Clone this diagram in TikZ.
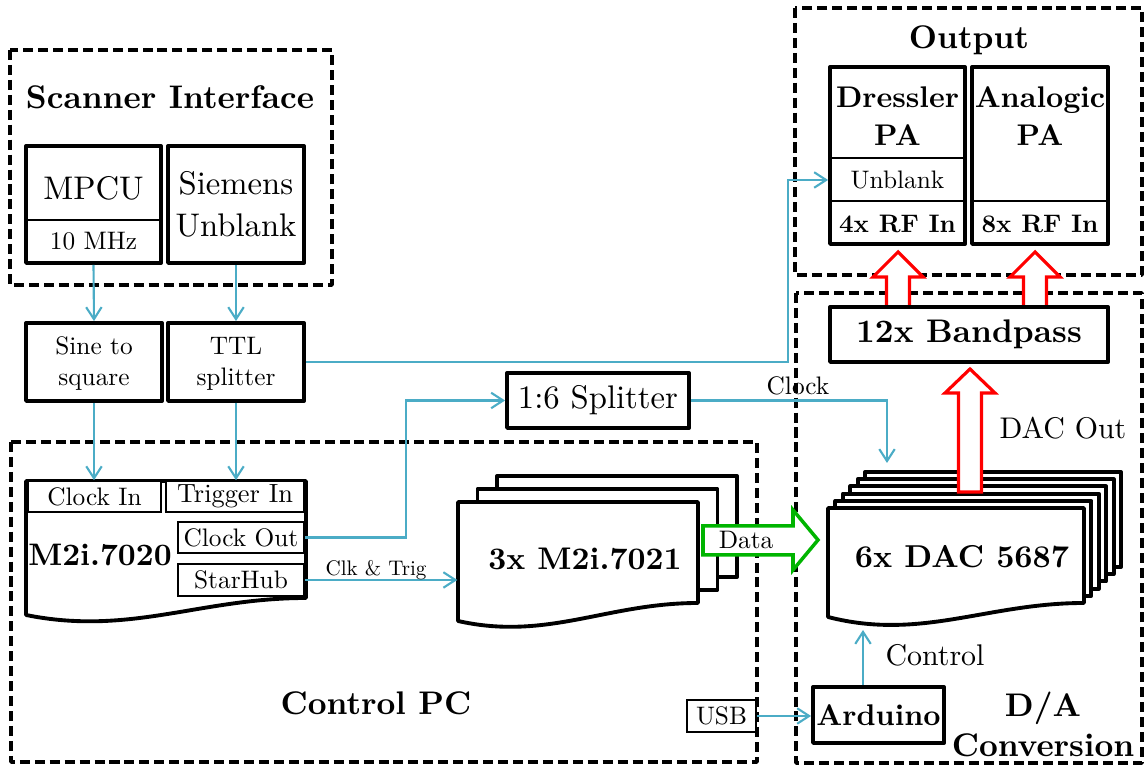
\documentclass[tikz,border=0pt]{standalone}
\usepackage{fontspec}
\setmainfont{lmroman10-regular.otf}[BoldFont=lmroman10-bold.otf]
\usetikzlibrary{arrows.meta,fit,calc}

\definecolor{sigblue}{RGB}{75,172,198}
\definecolor{dagreen}{RGB}{0,180,0}
\definecolor{dared}{RGB}{255,0,0}

% text sizes
\newcommand\szA{\fontsize{9.3}{12}\selectfont}
\newcommand\szB{\fontsize{8.5}{10.8}\selectfont}
\newcommand\szC{\fontsize{7.2}{8.8}\selectfont}
\newcommand\szD{\fontsize{6}{7}\selectfont}

% hollow upward block arrow: centre x, tip y, head base y, bottom y
\newcommand\blockup[4]{%
  \draw[fatred] ({#1-11.5},#4) -- ({#1-11.5},#3) -- ({#1-25},#3) -- (#1,#2)
    -- ({#1+25},#3) -- ({#1+11.5},#3) -- ({#1+11.5},#4) -- cycle;}

\begin{document}
\begin{tikzpicture}[x=0.01cm,y=-0.01cm,
  frame/.style={draw, line width=1pt, dash pattern=on 2.85pt off 1.4pt, line join=round},
  blk/.style={draw, line width=1.1pt, fill=white, inner sep=0pt, line join=round},
  thinbox/.style={draw, line width=0.45pt, fill=white, inner sep=0pt},
  divider/.style={line width=0.45pt},
  lbl/.style={inner sep=0pt, align=center},
  sig/.style={draw=sigblue, line width=0.6pt, -{Straight Barb[length=3.4pt,width=4.4pt]}},
  fatred/.style={draw=dared, line width=0.9pt, fill=white, line join=miter},
  fatgreen/.style={draw=dagreen, line width=1pt, fill=white, line join=miter},
  page/.style={draw, line width=1.1pt, fill=white, line join=round}
]
\useasboundingbox (0,0) rectangle (1145,765);

% ---------- dashed groups ----------
\draw[frame] (10,50) rectangle (332,285);
\draw[frame] (11,442) rectangle (757,762);
\draw[frame] (795,8) rectangle (1142,275);
\draw[frame] (796,293) rectangle (1142,763);

\node[lbl, font=\szA\bfseries] (tscan) at (170,97) {Scanner Interface};
\node[lbl, font=\szA\bfseries] (tpc) at (376,703) {Control PC};
\node[lbl, font=\szA\bfseries] (tout) at (969,40) {Output};
\node[lbl, font=\fontsize{9.3}{11.4}\selectfont\bfseries] (tda) at (1043,724) {D/A\\Conversion};

% ---------- scanner interface ----------
\node[blk, fit={(26,146)(161,263)}] (mpcu) {};
\draw[divider] (26,220) -- (161,220);
\node[lbl, font=\szA] (mpcut) at (93.5,188) {MPCU};
\node[lbl, font=\szC] (mhz) at (93.5,241) {10 MHz};

\node[blk, fit={(168,146)(304,263)}] (siem) {};
\node[lbl, font=\szA] (siemt) at (236,204) {Siemens\\Unblank};

\node[blk, fit={(26,323)(162,401)}] (sine) {};
\node[lbl, font=\szC] (sinet) at (94,364) {Sine to\\square};
\node[blk, fit={(168,323)(304,401)}] (ttl) {};
\node[lbl, font=\szC] (ttlt) at (236,364) {TTL\\splitter};

% ---------- M2i.7020 card ----------
\draw[page] (26,481) -- (306,481) -- (306,598)
  .. controls (200,598) and (130,636) .. (26,615) -- cycle;
\node[fit={(26,481)(306,616)}, inner sep=0pt] (m20) {};
\node[thinbox, fit={(28,481)(161,512)}] (clkin) {};
\node[lbl, font=\szC] (clkint) at (clkin.center) {Clock In};
\node[thinbox, fit={(166,481)(304,512)}] (trigin) {};
\node[lbl, font=\fontsize{7.5}{9}\selectfont] (trigint) at (trigin.center) {Trigger In};
\node[thinbox, fit={(178,522)(304,553)}] (clkout) {};
\node[lbl, font=\szC] (clkoutt) at (clkout.center) {Clock Out};
\node[thinbox, fit={(178,564)(304,596)}] (starhub) {};
\node[lbl, font=\szC] (starhubt) at (starhub.center) {StarHub};
\node[lbl, font=\fontsize{8.85}{10}\selectfont\bfseries] (m20t) at (100,555) {M2i.7020};

% ---------- 3x M2i.7021 stack ----------
\draw[page] (497,476) rectangle (737,577);
\draw[page] (477.5,489) rectangle (717.5,590);
\draw[page] (458,502) -- (698,502) -- (698,603)
  .. controls (607,603) and (547,641) .. (458,621) -- cycle;
\node[fit={(458,502)(698,622)}, inner sep=0pt] (m21) {};
\node[lbl, font=\fontsize{8.9}{10}\selectfont\bfseries] (m21t) at (585,559) {3x M2i.7021};

% ---------- clock splitter ----------
\node[blk, fit={(507,373)(689,428)}] (split) {};
\node[lbl, font=\szA] (splitt) at (split.center) {1:6 Splitter};

% ---------- output stage ----------
\blockup{898}{252}{277}{307}
\blockup{1035}{252}{277}{307}

\node[blk, fit={(830,67)(965,244)}] (dress) {};
\draw[divider] (830,158) -- (965,158);
\draw[divider] (830,201) -- (965,201);
\node[lbl, font=\szB\bfseries] (dresst) at (897.5,116) {Dressler\\PA};
\node[lbl, font=\szC] (unbl) at (897.5,180) {Unblank};
\node[lbl, font=\szC\bfseries] (rf4) at (897.5,224) {4x RF In};

\node[blk, fit={(972,67)(1108,244)}] (analog) {};
\draw[divider] (972,201) -- (1108,201);
\node[lbl, font=\szB\bfseries] (analogt) at (1040,116) {Analogic\\PA};
\node[lbl, font=\szC\bfseries] (rf8) at (1040,224) {8x RF In};

% ---------- D/A conversion ----------
\node[blk, fit={(830,307)(1108,362)}] (bandp) {};
\node[lbl, font=\szA\bfseries] (bandpt) at (bandp.center) {12x Bandpass};

\foreach \k in {5,4,3,2,1}
  \draw[page] ({828+7.4*\k},{508-7.2*\k}) rectangle ({1084+7.4*\k},{603-7.2*\k});
\blockup{970}{369}{393}{492}
\draw[page] (828,508) -- (1084,508) -- (1084,603)
  .. controls (987,603) and (921,641) .. (828,617) -- cycle;
\node[fit={(828,508)(1084,618)}, inner sep=0pt] (dac) {};
\node[lbl, font=\fontsize{9}{11}\selectfont\bfseries] (dact) at (962,557) {6x DAC 5687};
\node[lbl, font=\szB] (dacout) at (1063,428) {DAC Out};

\node[blk, fit={(813,687)(944,743)}] (ard) {};
\node[lbl, font=\szB\bfseries] (ardt) at (ard.center) {Arduino};
\node[thinbox, fit={(687,700)(756,732)}] (usb) {};
\node[lbl, font=\szC] (usbt) at (usb.center) {USB};

% ---------- data path ----------
\draw[fatgreen] (703,526) -- (793,526) -- (793,510) -- (818,540) -- (793,570)
  -- (793,555) -- (703,555) -- cycle;
\node[lbl, font=\szC] (datat) at (746,540) {Data};

% ---------- signal lines ----------
\draw[sig] (mpcu.south) -- (sine.north);
\draw[sig] (siem.south) -- (ttl.north);
\draw[sig] (sine.south) -- (sine.south |- clkin.north);
\draw[sig] (ttl.south) -- (ttl.south |- trigin.north);

\coordinate (ttlbend) at (788,180);
\draw[sig] (ttl.east) -| (ttlbend) -- (ttlbend -| dress.west);

\coordinate (ckbend) at (406,0);
\draw[sig] (clkout.east) -| (ckbend |- split.west) -- (split.west);

\coordinate (dacclk) at (887,463);
\draw[sig] (split.east) -| (dacclk);
\node[lbl, font=\szC] (clklbl) at (798,386) {Clock};

\draw[sig] (starhub.east) -- (starhub.east -| m21.west);
\node[lbl, font=\szD] (clktrig) at (376,570) {Clk \& Trig};

\coordinate (dacctl) at (863,630);
\draw[sig] (ard.north -| dacctl) -- (dacctl);
\node[lbl, font=\szB] (ctl) at (935,655) {Control};

\draw[sig] (usb.east) -- (usb.east -| ard.west);

\end{tikzpicture}
\end{document}
